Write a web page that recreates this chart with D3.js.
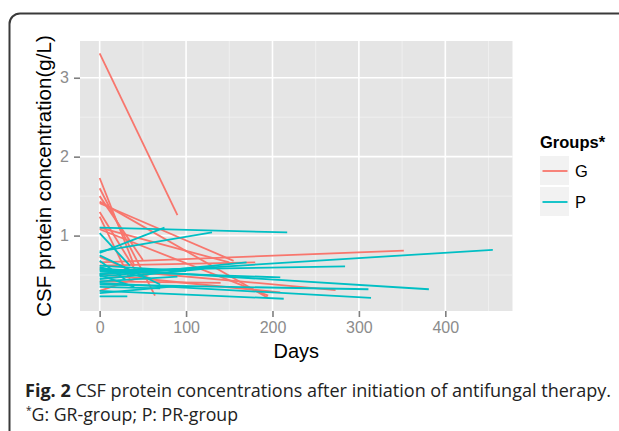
<!DOCTYPE html>
<html>
<head>
<meta charset="utf-8">
<script src="https://cdn.jsdelivr.net/npm/d3@7"></script>
<style>
  body { margin: 0; background: #fff; }
  svg { display: block; }
</style>
</head>
<body>
<script>
/**
 * DATA (each segment starts at day 0)
 */
const groups = ["G", "P"];
const groupColors = ["#F8766D", "#00BFC4"];

// G group: start value, end day, end value
const gStartVal = [3.31, 1.73, 1.60, 1.50, 1.43, 1.41, 1.30, 1.24, 1.10, 1.08, 0.73, 0.66, 0.62, 0.58, 0.51, 0.30, 0.42];
const gEndDay   = [90,   40,   64,   50,   195,  155,  42,   35,   150,  195,  60,   352,  180,  273,  209,  60,   140];
const gEndVal   = [1.26, 0.62, 0.24, 0.69, 0.21, 0.68, 0.55, 0.45, 0.66, 0.24, 0.45, 0.81, 0.66, 0.31, 0.28, 0.52, 0.40];

// P group: start value, end day, end value
const pStartVal = [1.10, 0.78, 0.80, 1.03, 0.51, 0.56, 0.58, 0.38, 0.40, 0.30, 0.55, 0.23, 0.75, 0.62, 0.45, 0.35, 0.50, 0.68, 0.42, 0.27, 0.48, 0.60, 0.52];
const pEndDay   = [217,  75,   130,  35,   455,  284,  381,  311,  314,  213,  209,  32,   70,   100,  120,  70,   40,   30,   90,   90,   170,  60,   130];
const pEndVal   = [1.04, 1.10, 1.04, 0.62, 0.82, 0.61, 0.32, 0.32, 0.21, 0.20, 0.47, 0.23, 0.38, 0.55, 0.58, 0.33, 0.35, 0.44, 0.48, 0.36, 0.66, 0.45, 0.60];

const xTicks = [0, 100, 200, 300, 400];
const yTicks = [1, 2, 3];

/**
 * LAYOUT
 */
const W = 619, H = 431;
const panel = { left: 80, right: 512.5, top: 41, bottom: 311 };
const FONT = "Liberation Sans, Arial, sans-serif";

const toSegments = (group, startVal, endDay, endVal) =>
  startVal.map((v, i) => ({ group, x1: 0, y1: v, x2: endDay[i], y2: endVal[i] }));

const segments = [
  ...toSegments("G", gStartVal, gEndDay, gEndVal),
  ...toSegments("P", pStartVal, pEndDay, pEndVal),
];

// ggplot-style 5% expansion
const expand = ([a, b]) => [a - (b - a) * 0.05, b + (b - a) * 0.05];
const xExtent = d3.extent(segments.flatMap((d) => [d.x1, d.x2]));
const yExtent = d3.extent(segments.flatMap((d) => [d.y1, d.y2]));

const x = d3.scaleLinear().domain(expand(xExtent)).range([panel.left, panel.right]);
const y = d3.scaleLinear().domain(expand(yExtent)).range([panel.bottom, panel.top]);
const color = d3.scaleOrdinal().domain(groups).range(groupColors);

const svg = d3.select("body").append("svg").attr("width", W).attr("height", H);

// figure frame (rounded top-left corner, open at right and bottom)
svg.append("path")
  .attr("d", "M9.5,431 V24 A10.5,10.5 0 0 1 20,13.5 H619")
  .attr("fill", "none")
  .attr("stroke", "#3a3a3a")
  .attr("stroke-width", 2);

// panel background
svg.append("rect")
  .attr("x", panel.left).attr("y", panel.top)
  .attr("width", panel.right - panel.left).attr("height", panel.bottom - panel.top)
  .attr("fill", "#E5E5E5");

const grid = svg.append("g");
const xMinor = d3.range(50, 500, 100).filter((v) => x(v) < panel.right);
const yMinor = [0.5, 1.5, 2.5];

grid.selectAll(".xminor").data(xMinor).join("line")
  .attr("x1", x).attr("x2", x).attr("y1", panel.top).attr("y2", panel.bottom)
  .attr("stroke", "#F2F2F2").attr("stroke-width", 0.8);
grid.selectAll(".yminor").data(yMinor).join("line")
  .attr("y1", y).attr("y2", y).attr("x1", panel.left).attr("x2", panel.right)
  .attr("stroke", "#F2F2F2").attr("stroke-width", 0.8);
grid.selectAll(".xmajor").data(xTicks).join("line")
  .attr("x1", x).attr("x2", x).attr("y1", panel.top).attr("y2", panel.bottom)
  .attr("stroke", "#fff").attr("stroke-width", 1.6);
grid.selectAll(".ymajor").data(yTicks).join("line")
  .attr("y1", y).attr("y2", y).attr("x1", panel.left).attr("x2", panel.right)
  .attr("stroke", "#fff").attr("stroke-width", 1.6);

// segments
svg.append("g")
  .selectAll("line")
  .data(segments)
  .join("line")
  .attr("x1", (d) => x(d.x1))
  .attr("y1", (d) => y(d.y1))
  .attr("x2", (d) => x(d.x2))
  .attr("y2", (d) => y(d.y2))
  .attr("stroke", (d) => color(d.group))
  .attr("stroke-width", 1.8);

// axes
const xAxis = svg.append("g")
  .attr("transform", `translate(0,${panel.bottom})`)
  .call(d3.axisBottom(x).tickValues(xTicks).tickFormat(d3.format("d")).tickSize(6).tickPadding(5));
const yAxis = svg.append("g")
  .attr("transform", `translate(${panel.left},0)`)
  .call(d3.axisLeft(y).tickValues(yTicks).tickFormat(d3.format("d")).tickSize(6).tickPadding(5));

[xAxis, yAxis].forEach((a) => {
  a.select(".domain").remove();
  a.selectAll(".tick line").attr("stroke", "#7f7f7f").attr("stroke-width", 1.6);
  a.selectAll(".tick text")
    .attr("fill", "#8c8c8c")
    .attr("font-family", FONT)
    .attr("font-size", "16px");
});

// axis titles
svg.append("text")
  .attr("x", (panel.left + panel.right) / 2)
  .attr("y", 358)
  .attr("text-anchor", "middle")
  .attr("font-family", FONT)
  .attr("font-size", "20px")
  .attr("fill", "#000")
  .text("Days");

svg.append("text")
  .attr("transform", `translate(51,${(panel.top + panel.bottom) / 2}) rotate(-90)`)
  .attr("text-anchor", "middle")
  .attr("font-family", FONT)
  .attr("font-size", "20.6px")
  .attr("fill", "#000")
  .text("CSF protein concentration(g/L)");

// legend
const legend = svg.append("g").attr("transform", "translate(540,0)");
legend.append("text")
  .attr("x", 0).attr("y", 148)
  .attr("font-family", FONT)
  .attr("font-size", "16.5px")
  .attr("font-weight", "bold")
  .text("Groups*");

const keys = legend.selectAll(".key").data(groups).join("g")
  .attr("transform", (d, i) => `translate(0,${156 + i * 31})`);
keys.append("rect")
  .attr("width", 29).attr("height", 29)
  .attr("fill", "#F2F2F2");
keys.append("line")
  .attr("x1", 2.5).attr("x2", 27.5).attr("y1", 15).attr("y2", 15)
  .attr("stroke", (d) => color(d)).attr("stroke-width", 1.8);
keys.append("text")
  .attr("x", 35).attr("y", 21)
  .attr("font-family", FONT)
  .attr("font-size", "16.5px")
  .text((d) => d);

// caption
const cap = svg.append("text")
  .attr("x", 25).attr("y", 397)
  .attr("font-family", "Open Sans, Noto Sans, sans-serif")
  .attr("font-size", "17.5px")
  .attr("fill", "#222")
  .attr("textLength", 586)
  .attr("lengthAdjust", "spacingAndGlyphs");
cap.append("tspan").attr("font-weight", "bold").text("Fig. 2");
cap.append("tspan").text(" CSF protein concentrations after initiation of antifungal therapy.");

const note = svg.append("text")
  .attr("x", 26).attr("y", 421)
  .attr("font-family", "Open Sans, Noto Sans, sans-serif")
  .attr("font-size", "17.5px")
  .attr("fill", "#222")
  .attr("textLength", 212)
  .attr("lengthAdjust", "spacingAndGlyphs");
note.append("tspan").attr("font-size", "10px").attr("dy", -7).text("*");
note.append("tspan").attr("dy", 7).text("G: GR-group; P: PR-group");
</script>
</body>
</html>
